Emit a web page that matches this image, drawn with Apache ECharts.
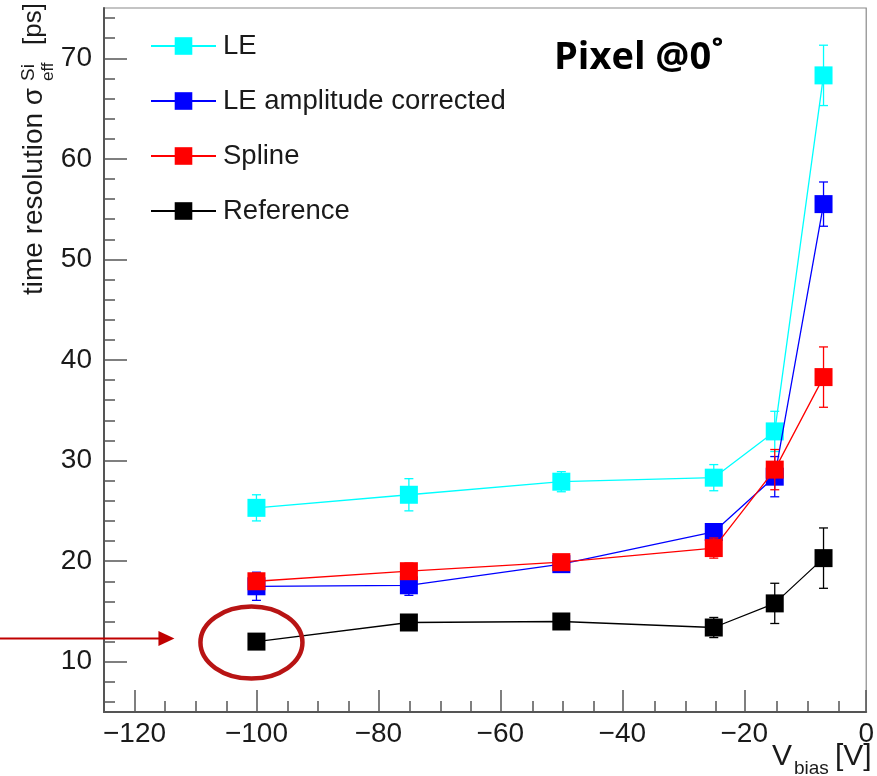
<!DOCTYPE html>
<html>
<head>
<meta charset="utf-8">
<script src="https://cdn.jsdelivr.net/npm/echarts@6/dist/echarts.min.js"></script>
<style>
  html, body { margin: 0; padding: 0; background: #ffffff; }
  #chart { width: 877px; height: 776px; }
</style>
</head>
<body>
<div id="chart"></div>
<script>
// Bias voltages [V]
const biasVoltages = [-100, -75, -50, -25, -15, -7];

// Time resolution [ps] and uncertainties for each method
const leValues = [25.3, 26.6, 27.9, 28.3, 32.9, 68.3];
const leErrors = [1.3, 1.6, 1.0, 1.3, 2.0, 3.0];

const leAmpValues = [17.5, 17.6, 19.7, 22.9, 28.4, 55.5];
const leAmpErrors = [1.4, 1.0, 0.6, 0.7, 2.0, 2.2];

const splineValues = [18.0, 19.0, 19.9, 21.3, 29.1, 38.3];
const splineErrors = [0.8, 0.8, 0.6, 1.0, 2.0, 3.0];

const referenceValues = [12.0, 13.9, 14.0, 13.4, 15.8, 20.3];
const referenceErrors = [0.4, 0.4, 0.5, 1.0, 2.0, 3.0];

const seriesNames = ['LE', 'LE amplitude corrected', 'Spline', 'Reference'];
const seriesColors = ['#00ffff', '#0000ff', '#ff0000', '#000000'];

// Axis ticks
const xMajorTicks = [-120, -100, -80, -60, -40, -20, 0];
const xMinorTicks = [-125, -115, -110, -105, -95, -90, -85, -75, -70, -65, -55, -50, -45, -35, -30, -25, -15, -10, -5];
const yMajorTicks = [10, 20, 30, 40, 50, 60, 70];
const yMinorTicks = [6, 8, 12, 14, 16, 18, 22, 24, 26, 28, 32, 34, 36, 38, 42, 44, 46, 48, 52, 54, 56, 58, 62, 64, 66, 68, 72, 74];

const FONT = '"Liberation Sans", Arial, sans-serif';
const TEXT_COLOR = '#1a1a1a';
const AXIS_COLOR = '#555555';

const allValues = [leValues, leAmpValues, splineValues, referenceValues];
const allErrors = [leErrors, leAmpErrors, splineErrors, referenceErrors];

function pairs(values) {
  return biasVoltages.map((x, i) => [x, values[i]]);
}
function triples(values, errors) {
  return biasVoltages.map((x, i) => [x, values[i], errors[i]]);
}

function errorBarRenderer(color) {
  return function (params, api) {
    const x = api.value(0), y = api.value(1), e = api.value(2);
    const top = api.coord([x, y + e]);
    const bot = api.coord([x, y - e]);
    const cap = 4.5;
    const st = { stroke: color, lineWidth: 1.3 };
    return {
      type: 'group',
      children: [
        { type: 'line', shape: { x1: top[0], y1: top[1], x2: bot[0], y2: bot[1] }, style: st },
        { type: 'line', shape: { x1: top[0] - cap, y1: top[1], x2: top[0] + cap, y2: top[1] }, style: st },
        { type: 'line', shape: { x1: bot[0] - cap, y1: bot[1], x2: bot[0] + cap, y2: bot[1] }, style: st }
      ]
    };
  };
}

const series = [];
seriesNames.forEach((name, k) => {
  series.push({
    name: name + ' error',
    type: 'custom',
    renderItem: errorBarRenderer(seriesColors[k]),
    data: triples(allValues[k], allErrors[k]),
    encode: { x: 0, y: 1 },
    z: 2 + k * 2,
    silent: true
  });
  series.push({
    name: name,
    type: 'line',
    data: pairs(allValues[k]),
    symbol: 'rect',
    symbolSize: 18,
    showSymbol: true,
    lineStyle: { color: seriesColors[k], width: 1.3 },
    itemStyle: { color: seriesColors[k] },
    z: 3 + k * 2
  });
});

function fmtNum(v) {
  return v < 0 ? '\u2212' + Math.abs(v) : String(v);
}

const gridBox = { left: 104, right: 8, top: 8, bottom: 64 };
const tickStyle = { color: AXIS_COLOR, width: 1.5 };

const option = {
  animation: false,
  backgroundColor: '#ffffff',
  grid: [
    Object.assign({ show: true, borderColor: '#8a8a8a', borderWidth: 1.2, backgroundColor: 'transparent' }, gridBox),
    // second grid with the same box, carrying only the minor ticks
    Object.assign({ show: false }, gridBox)
  ],
  legend: {
    data: seriesNames,
    orient: 'vertical',
    left: 145,
    top: 27,
    itemWidth: 65,
    itemHeight: 22,
    itemGap: 27,
    selectedMode: false,
    textStyle: { fontFamily: FONT, fontSize: 27.5, color: TEXT_COLOR, lineHeight: 28, padding: [0, 0, 0, 2] }
  },
  xAxis: [
    {
      type: 'value', gridIndex: 0, min: -125, max: 0, position: 'bottom',
      splitLine: { show: false },
      axisLine: { show: true, onZero: false, lineStyle: { color: AXIS_COLOR, width: 2 } },
      axisTick: { show: true, inside: true, length: 22, customValues: xMajorTicks, lineStyle: tickStyle },
      axisLabel: { customValues: xMajorTicks, formatter: fmtNum, fontFamily: FONT, fontSize: 28, color: TEXT_COLOR, margin: 8 }
    },
    {
      type: 'value', gridIndex: 1, min: -125, max: 0, position: 'bottom',
      splitLine: { show: false },
      axisLine: { show: false, onZero: false },
      axisTick: { show: true, inside: true, length: 11, customValues: xMinorTicks, lineStyle: tickStyle },
      axisLabel: { show: false }
    }
  ],
  yAxis: [
    {
      type: 'value', gridIndex: 0, min: 5, max: 75, position: 'left',
      splitLine: { show: false },
      axisLine: { show: true, onZero: false, lineStyle: { color: AXIS_COLOR, width: 2 } },
      axisTick: { show: true, inside: true, length: 23, customValues: yMajorTicks, lineStyle: tickStyle },
      axisLabel: { customValues: yMajorTicks, formatter: fmtNum, fontFamily: FONT, fontSize: 28, color: TEXT_COLOR, margin: 12 }
    },
    {
      type: 'value', gridIndex: 1, min: 5, max: 75, position: 'left',
      splitLine: { show: false },
      axisLine: { show: false, onZero: false },
      axisTick: { show: true, inside: true, length: 11, customValues: yMinorTicks, lineStyle: tickStyle },
      axisLabel: { show: false }
    }
  ],
  series: series
};

const chart = echarts.init(document.getElementById('chart'), null, { renderer: 'canvas' });
chart.setOption(option);

function t(text, x, y, size, weight) {
  return {
    type: 'text',
    style: {
      text: text, x: x, y: y,
      font: (weight || 'normal') + ' ' + size + 'px ' + FONT,
      fill: TEXT_COLOR,
      textAlign: 'left', textVerticalAlign: 'middle'
    }
  };
}

// Y-axis title with sub/superscript, written bottom-to-top
const yTitle = {
  type: 'group',
  x: 42, y: 295,
  rotation: Math.PI / 2,
  children: [
    t('time resolution \u03c3', 0, -8, 28),
    t('Si', 214, -13, 19),
    t('eff', 214, 6, 17),
    t('[ps]', 250, -8, 26)
  ]
};

const xTitle = {
  type: 'group',
  children: [
    t('V', 772, 757, 30),
    t('bias', 794, 769, 19),
    t('[V]', 835, 757, 30)
  ]
};

const pixelLabel = {
  type: 'text',
  style: {
    text: 'Pixel @0\u02da', x: 554, y: 58,
    font: 'bold 38px "Open Sans", sans-serif',
    fill: '#000000', textAlign: 'left', textVerticalAlign: 'middle'
  }
};

// Highlight around the lowest reference point
const p = chart.convertToPixel({ xAxisIndex: 0, yAxisIndex: 0 }, [biasVoltages[0], referenceValues[0]]);
const markRed = '#b81414';
const arrowY = p[1] - 3;
const tipX = p[0] - 82;
const highlight = [
  {
    type: 'ellipse',
    shape: { cx: p[0] - 5, cy: p[1] + 1, rx: 51, ry: 36 },
    style: { fill: 'none', stroke: markRed, lineWidth: 4.5 },
    z: 100
  },
  {
    type: 'line',
    shape: { x1: 0, y1: arrowY, x2: tipX - 12, y2: arrowY },
    style: { stroke: '#c00000', lineWidth: 2 },
    z: 100
  },
  {
    type: 'polygon',
    shape: { points: [[tipX, arrowY], [tipX - 16, arrowY - 7.5], [tipX - 16, arrowY + 7.5]] },
    style: { fill: '#c00000' },
    z: 100
  }
];

chart.setOption({
  graphic: [yTitle, xTitle, pixelLabel].concat(highlight)
});
</script>
</body>
</html>
